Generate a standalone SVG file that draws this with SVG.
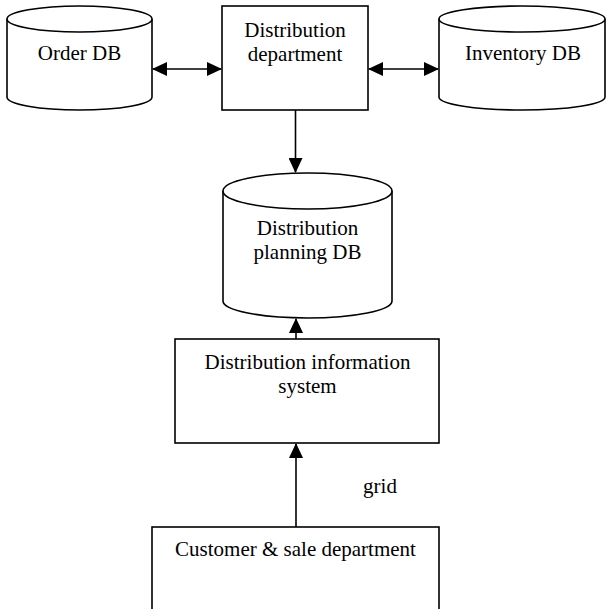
<svg xmlns="http://www.w3.org/2000/svg" width="606" height="609" viewBox="0 0 606 609">
  <style>
    .shape { fill: #ffffff; stroke: #000000; stroke-width: 1.6; }
    .edge { fill: none; stroke: #000000; stroke-width: 1.6; }
    .label { font-family: "Liberation Serif", "Times New Roman", serif; font-size: 21px; fill: #000000; text-anchor: middle; }
  </style>
  <defs>
    <marker id="head" viewBox="0 0 15 14" refX="14" refY="7" markerWidth="15" markerHeight="14" markerUnits="userSpaceOnUse" orient="auto-start-reverse">
      <path d="M0,0 L15,7 L0,14 Z" fill="#000000"/>
    </marker>
  </defs>

  <rect width="606" height="609" fill="#ffffff"/>

  <!-- Order DB -->
  <g id="order-db">
    <path class="shape" d="M7,19 L7,97 A72.5,13 0 0 0 152,97 L152,19 A72.5,13 0 0 0 7,19 Z"/>
    <path class="shape" d="M7,19 A72.5,13 0 0 0 152,19" fill="none"/>
    <text class="label" x="79.5" y="60">Order DB</text>
  </g>

  <!-- Distribution department -->
  <g id="distribution-department">
    <rect class="shape" x="222" y="6" width="146" height="104"/>
    <text class="label" x="295" y="37">Distribution</text>
    <text class="label" x="295" y="61">department</text>
  </g>

  <!-- Inventory DB -->
  <g id="inventory-db">
    <path class="shape" d="M439,19 L439,97 A83,13 0 0 0 605,97 L605,19 A83,13 0 0 0 439,19 Z"/>
    <path class="shape" d="M439,19 A83,13 0 0 0 605,19" fill="none"/>
    <text class="label" x="523" y="60">Inventory DB</text>
  </g>

  <!-- Distribution planning DB -->
  <g id="distribution-planning-db">
    <path class="shape" d="M223,191 L223,301 A84.5,17 0 0 0 392,301 L392,191 A84.5,18 0 0 0 223,191 Z"/>
    <path class="shape" d="M223,191 A84.5,18 0 0 0 392,191" fill="none"/>
    <text class="label" x="307.5" y="235">Distribution</text>
    <text class="label" x="307.5" y="259">planning DB</text>
  </g>

  <!-- Distribution information system -->
  <g id="distribution-information-system">
    <rect class="shape" x="175" y="339" width="264" height="104"/>
    <text class="label" x="307.5" y="369">Distribution information</text>
    <text class="label" x="307.5" y="393">system</text>
  </g>

  <!-- Customer & sale department (runs past the lower edge) -->
  <g id="customer-sale-department">
    <rect class="shape" x="152" y="527" width="287" height="90"/>
    <text class="label" x="295.5" y="556">Customer &amp; sale department</text>
  </g>

  <!-- Connectors -->
  <g id="connectors">
    <line class="edge" x1="153" y1="69" x2="221" y2="69" marker-start="url(#head)" marker-end="url(#head)"/>
    <line class="edge" x1="369" y1="69" x2="438" y2="69" marker-start="url(#head)" marker-end="url(#head)"/>
    <line class="edge" x1="295.5" y1="110" x2="295.5" y2="172" marker-end="url(#head)"/>
    <line class="edge" x1="296" y1="339" x2="296" y2="319" marker-end="url(#head)"/>
    <line class="edge" x1="296" y1="527" x2="296" y2="444" marker-end="url(#head)"/>
    <text class="label" x="380" y="493">grid</text>
  </g>
</svg>
